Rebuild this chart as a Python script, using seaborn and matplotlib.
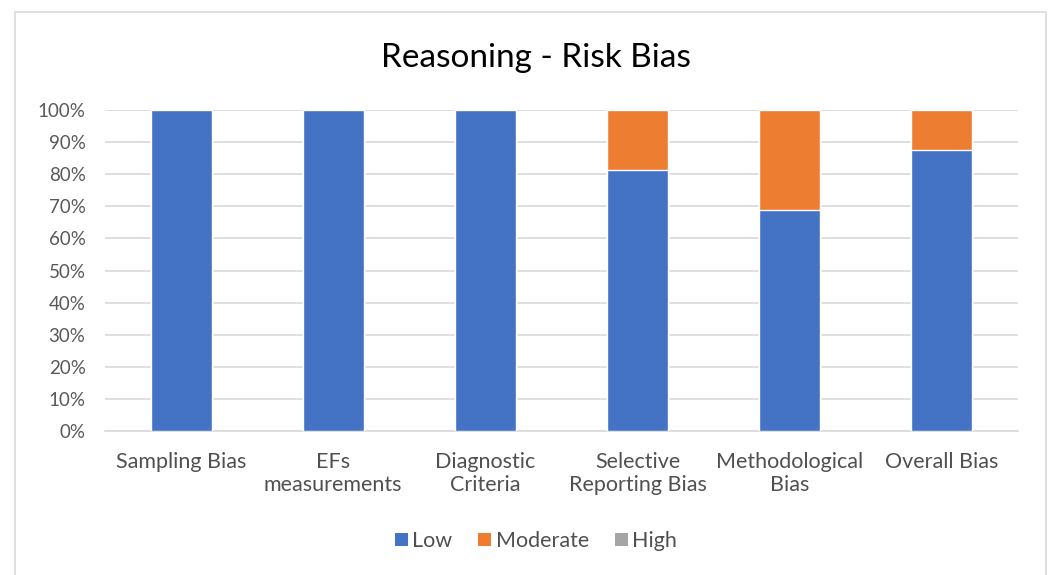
import matplotlib
matplotlib.use("Agg")
import matplotlib.pyplot as plt
from matplotlib.patches import Patch, Rectangle
from matplotlib.ticker import PercentFormatter
import numpy as np
import seaborn as sns

categories = ["Sampling Bias", "EFs\nmeasurements", "Diagnostic\nCriteria",
              "Selective\nReporting Bias", "Methodological\nBias", "Overall Bias"]
low = [100, 100, 100, 81.25, 68.75, 87.5]
moderate = [0, 0, 0, 18.75, 31.25, 12.5]
high = [0, 0, 0, 0, 0, 0]
series_names = ["Low", "Moderate", "High"]
colors = ["#4472C4", "#ED7D31", "#A5A5A5"]
y_ticks = [0, 10, 20, 30, 40, 50, 60, 70, 80, 90, 100]

sns.set_theme(style="white")
plt.rcParams["font.family"] = ["Lato", "DejaVu Sans"]

fig = plt.figure(figsize=(10.51, 5.75), dpi=100)
ax = fig.add_axes([0.0999, 0.2504, 0.8687, 0.5583])

# stacked bars: draw cumulative totals from the top layer down
layers = [np.array(low), np.array(moderate), np.array(high)]
cum = np.cumsum(layers, axis=0)
for i in reversed(range(3)):
    sns.barplot(x=categories, y=cum[i], order=categories, color=colors[i],
                width=0.4, saturation=1, ax=ax, zorder=3)

ax.set_ylim(0, 100)
ax.set_xlim(-0.5, len(categories) - 0.5)
ax.set_yticks(y_ticks)
ax.yaxis.set_major_formatter(PercentFormatter(decimals=0))
ax.grid(axis="y", color="#D9D9D9", linewidth=1.2, zorder=0)
ax.set_axisbelow(True)
for s in ["top", "right", "left"]:
    ax.spines[s].set_visible(False)
ax.spines["bottom"].set_color("#D9D9D9")
ax.spines["bottom"].set_linewidth(1.2)
ax.tick_params(axis="y", length=0, pad=14, labelsize=13.5, labelcolor="#595959")
ax.tick_params(axis="x", length=0, pad=15, labelsize=15.5, labelcolor="#505050")
for lbl in ax.get_xticklabels():
    lbl.set_linespacing(1.2)
ax.set_xlabel("")
ax.set_ylabel("")

fig.text(0.51, 1 - 58 / 575, "Reasoning - Risk Bias", ha="center", va="center",
         fontsize=24, color="#000000")

handles = [Patch(facecolor=c, edgecolor="none") for c in colors]
fig.legend(handles, series_names, loc="center", bbox_to_anchor=(0.51, 1 - 541 / 575),
           ncol=3, frameon=False, fontsize=15.5, handlelength=0.6, handleheight=0.6,
           handletextpad=0.2, columnspacing=1.2, labelcolor="#505050")

# chart area border
fig.add_artist(Rectangle((15 / 1051, -0.01), (1046 - 15) / 1051, 1 - 12 / 575 + 0.01,
                         transform=fig.transFigure, fill=False,
                         edgecolor="#D9D9D9", linewidth=1.2))

fig.savefig("out.png", dpi=100)
